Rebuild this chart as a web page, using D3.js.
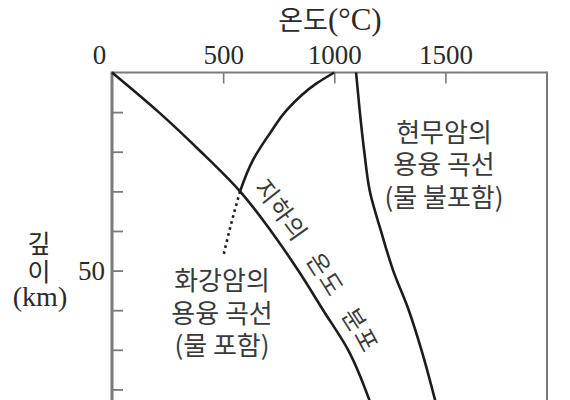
<!DOCTYPE html>
<html><head><meta charset="utf-8">
<script src="https://cdn.jsdelivr.net/npm/d3@7"></script>
<style>
html,body{margin:0;padding:0;background:#fff;}
svg{display:block;}
</style></head>
<body>
<svg id="chart" width="570" height="400"></svg>
<script>
// ---- data ----
const tempTicks = [0, 500, 1000, 1500];
const depthTicks = [10, 20, 30, 40, 50, 60, 70, 80];
const depthTickLabels = [50];
const geoDepth = [0, 10, 20, 30, 40, 50, 60, 70, 83];
const geoTemp  = [0, 210, 400, 576, 715, 838, 950, 1062, 1160];
const graniteDepth = [0, 2.7, 9.5, 15.3, 22.1, 30];
const graniteTemp  = [1000, 922, 786, 711, 634, 576];
const graniteDotDepth = [30, 38, 46.5];
const graniteDotTemp  = [576, 537, 500];
const basaltDepth = [0, 10, 20, 30, 40, 50, 60, 70, 83];
const basaltTemp  = [1098, 1115, 1135, 1160, 1210, 1265, 1335, 1392, 1455];
const xTitle = ["온도", "(°C)"];
const yTitle = ["깊", "이", "(km)"];
const geoLabel = "지하의 온도 분포";
const graniteLabel = ["화강암의", "용융 곡선", "(물 포함)"];
const basaltLabel = ["현무암의", "용융 곡선", "(물 불포함)"];

// ---- layout ----
const svg = d3.select("#chart");
const x = d3.scaleLinear().domain([0, 1957]).range([112, 547]);
const y = d3.scaleLinear().domain([0, 83.3]).range([72.5, 402.5]);
const KR = "'Noto Sans CJK KR', 'Noto Sans', sans-serif";
const SERIF = "'Liberation Serif', 'DejaVu Serif', serif";
const axisCol = "#7a7a7a";
const lineCol = "#1c1c1c";
const textCol = "#3a3a3a";

// top axis
const topAxis = d3.axisTop(x).tickValues(tempTicks).tickSizeInner(-11).tickSizeOuter(0).tickPadding(9)
  .tickFormat(d3.format("d"));
const gTop = svg.append("g").attr("transform", `translate(0,${y(0)})`).call(topAxis);
gTop.select(".domain").remove();
gTop.selectAll(".tick line").attr("stroke", axisCol).attr("stroke-width", 1.6)
  .filter(d => d === 0).remove();
gTop.selectAll(".tick text").attr("font-family", SERIF).attr("font-size", 27).attr("fill", "#2a2a2a")
  .attr("dx", d => d === 0 ? -13 : 0);
svg.append("line").attr("x1", x.range()[0]).attr("x2", x.range()[1]).attr("y1", y(0)).attr("y2", y(0))
  .attr("stroke", axisCol).attr("stroke-width", 2);

// left axis
const leftAxis = d3.axisLeft(y).tickValues(depthTicks).tickSizeInner(-11).tickSizeOuter(0).tickPadding(7)
  .tickFormat(d => depthTickLabels.includes(d) ? d : "");
const gLeft = svg.append("g").attr("transform", `translate(${x(0)},0)`).call(leftAxis);
gLeft.select(".domain").remove();
gLeft.selectAll(".tick line").attr("stroke", axisCol).attr("stroke-width", 1.8);
gLeft.selectAll(".tick text").attr("font-family", SERIF).attr("font-size", 27).attr("fill", "#2a2a2a");
svg.append("line").attr("x1", x(0)).attr("x2", x(0)).attr("y1", y(0) - 1).attr("y2", 400)
  .attr("stroke", axisCol).attr("stroke-width", 3);
// right border
svg.append("line").attr("x1", x.range()[1]).attr("x2", x.range()[1]).attr("y1", y(0) - 1).attr("y2", 400)
  .attr("stroke", axisCol).attr("stroke-width", 2);

// curves
const line = d3.line().x(d => x(d[1])).y(d => y(d[0])).curve(d3.curveMonotoneY);
const zip = (a, b) => a.map((v, i) => [v, b[i]]);
const geoPath = svg.append("path").attr("d", line(zip(geoDepth, geoTemp)))
  .attr("fill", "none").attr("stroke", lineCol).attr("stroke-width", 2.6);
svg.append("path").attr("d", line(zip(graniteDepth, graniteTemp)))
  .attr("fill", "none").attr("stroke", lineCol).attr("stroke-width", 2.6);
svg.append("path").attr("d", line(zip(graniteDotDepth, graniteDotTemp)))
  .attr("fill", "none").attr("stroke", lineCol).attr("stroke-width", 2.6)
  .attr("stroke-dasharray", "2.6,3.6");
svg.append("path").attr("d", line(zip(basaltDepth, basaltTemp)))
  .attr("fill", "none").attr("stroke", lineCol).attr("stroke-width", 2.6);

// label path offset from geotherm
const gp = geoPath.node();
const L = gp.getTotalLength();
const pts = [];
const off = 12;
for (let s = 0; s <= L; s += 2) {
  const p = gp.getPointAtLength(s);
  const q = gp.getPointAtLength(Math.min(L, s + 1));
  const p0 = gp.getPointAtLength(Math.max(0, s - 1));
  let dx = q.x - p0.x, dy = q.y - p0.y;
  const n = Math.hypot(dx, dy) || 1;
  dx /= n; dy /= n;
  pts.push([p.x + dy * off, p.y - dx * off]);
}
svg.append("path").attr("id", "geoLabelPath").attr("d", d3.line()(pts)).attr("fill", "none");
let startLen = 0;
for (let s = 0; s <= L; s += 1) { if (gp.getPointAtLength(s).y >= y(31.5)) { startLen = s; break; } }
svg.append("text").attr("font-family", KR).attr("font-size", 24).attr("fill", textCol)
  .attr("word-spacing", 13).attr("letter-spacing", 1)
  .append("textPath").attr("href", "#geoLabelPath").attr("startOffset", startLen)
  .text(geoLabel);

// granite / basalt labels
function block(lines, cx, ys) {
  svg.append("g").selectAll("text").data(lines).join("text")
    .attr("x", cx).attr("y", (d, i) => ys[i])
    .attr("text-anchor", "middle").attr("dominant-baseline", "central")
    .attr("font-family", KR).attr("font-size", 26).attr("fill", textCol)
    .text(d => d);
}
block(graniteLabel, 222, [278, 311, 343]);
block(basaltLabel, 444, [130, 162, 195]);

// titles
const t = svg.append("text").attr("x", 330).attr("y", 30).attr("text-anchor", "middle").attr("fill", "#2a2a2a");
t.append("tspan").attr("font-family", KR).attr("font-size", 27).text(xTitle[0]);
t.append("tspan").attr("font-family", SERIF).attr("font-size", 31).text(xTitle[1]);

svg.append("text").attr("x", 39).attr("y", 242).attr("text-anchor", "middle").attr("dominant-baseline", "central")
  .attr("font-family", KR).attr("font-size", 25).attr("fill", "#2a2a2a").text(yTitle[0]);
svg.append("text").attr("x", 39).attr("y", 270).attr("text-anchor", "middle").attr("dominant-baseline", "central")
  .attr("font-family", KR).attr("font-size", 25).attr("fill", "#2a2a2a").text(yTitle[1]);
svg.append("text").attr("x", 40).attr("y", 306).attr("text-anchor", "middle")
  .attr("font-family", SERIF).attr("font-size", 28).attr("fill", "#2a2a2a").text(yTitle[2]);
</script>
</body></html>
